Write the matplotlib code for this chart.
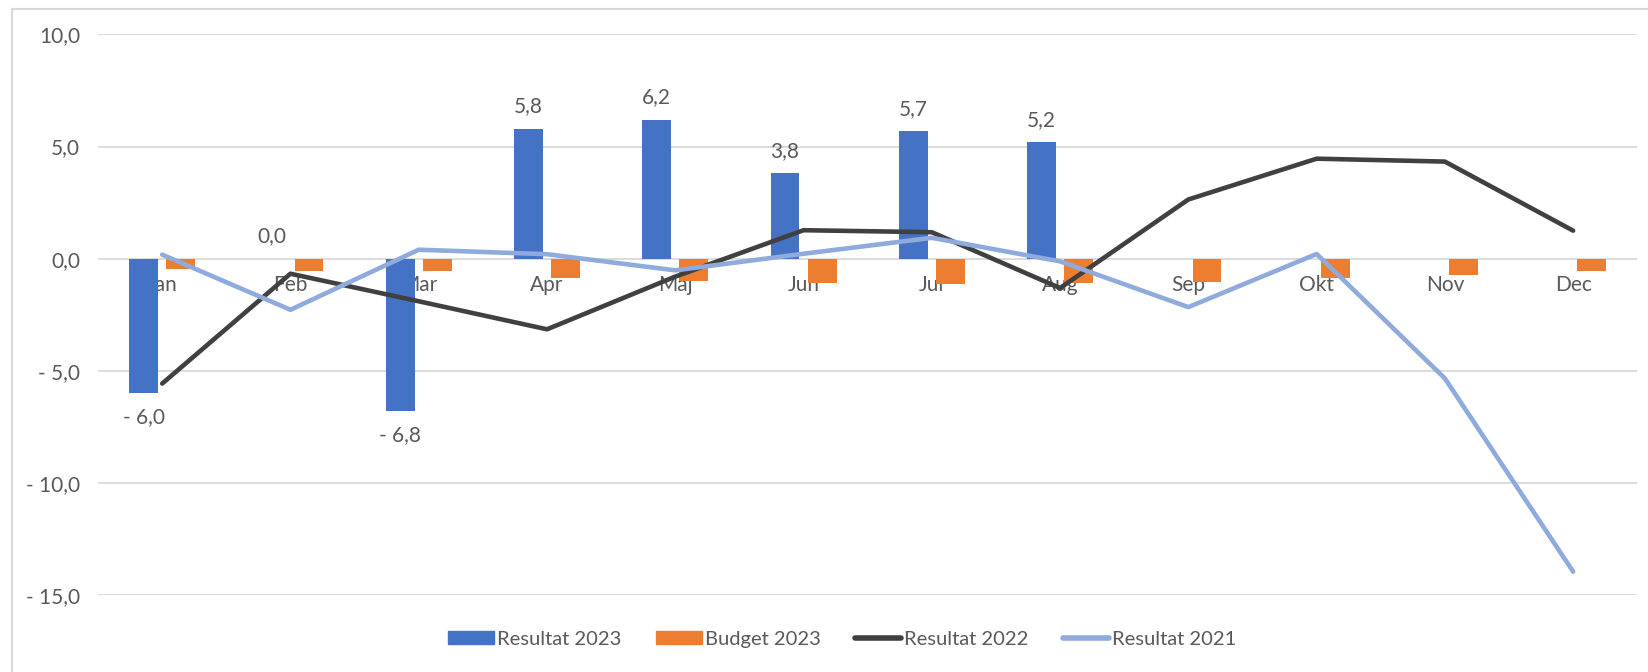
import matplotlib as mpl
import matplotlib.pyplot as plt
import numpy as np
from matplotlib.lines import Line2D
from matplotlib.patches import Patch

# Data
months = ["Jan", "Feb", "Mar", "Apr", "Maj", "Jun", "Jul", "Aug", "Sep", "Okt", "Nov", "Dec"]
resultat_2023 = [-6.0, 0.0, -6.8, 5.8, 6.2, 3.8, 5.7, 5.2, np.nan, np.nan, np.nan, np.nan]
budget_2023 = [-0.45, -0.57, -0.57, -0.88, -0.99, -1.09, -1.13, -1.09, -1.04, -0.84, -0.73, -0.57]
resultat_2022 = [-5.57, -0.67, -1.9, -3.15, -0.8, 1.27, 1.18, -1.31, 2.64, 4.46, 4.33, 1.25]
resultat_2021 = [0.18, -2.28, 0.4, 0.2, -0.52, 0.22, 0.93, -0.12, -2.16, 0.21, -5.34, -13.96]
yticks = [10, 5, 0, -5, -10, -15]

BLUE = "#4472C4"
ORANGE = "#ED7D31"
DARK = "#404040"
LIGHT = "#8FAADC"
TEXT = "#595959"
GRID = "#D9D9D9"

FS = 15

plt.rcParams["font.family"] = ["Lato", "DejaVu Sans"]
plt.rcParams["font.size"] = FS


def fmt(v):
    s = f"{abs(v):.1f}".replace(".", ",")
    return f"- {s}" if v < 0 else s


fig = plt.figure(figsize=(16.48, 6.72), dpi=100)
ax = fig.add_axes([0.0595, 0.1146, 0.934, 0.8341])

x = np.arange(len(months))
w = 0.225
off = 0.145
ax.bar(x - off, resultat_2023, w, color=BLUE, zorder=2)
ax.bar(x + off, budget_2023, w, color=ORANGE, zorder=2)
ax.plot(x, resultat_2022, color=DARK, lw=3.3, solid_capstyle="round",
        solid_joinstyle="round", zorder=3)
ax.plot(x, resultat_2021, color=LIGHT, lw=3.3, solid_capstyle="round",
        solid_joinstyle="round", zorder=3)

# data labels on Resultat 2023
for xi, v in zip(x - off, resultat_2023):
    if np.isnan(v):
        continue
    dy = 16 if v >= 0 else -17
    ax.annotate(fmt(v), (xi, v), xytext=(0, dy), textcoords="offset points",
                ha="center", va="center", color=TEXT, fontsize=FS)

ax.set_xlim(-0.5, len(months) - 0.5)
ax.set_ylim(-15, 10)
ax.set_yticks(yticks)
ax.set_yticklabels([fmt(v) for v in yticks])
ax.set_xticks(x)
ax.set_xticklabels(months)
ax.spines["bottom"].set_position(("data", 0))
for s in ax.spines.values():
    s.set_visible(False)
ax.tick_params(axis="both", length=0, colors=TEXT)
ax.tick_params(axis="y", pad=13)
ax.tick_params(axis="x", pad=12)
ax.set_axisbelow(True)
ax.grid(axis="y", color=GRID, lw=1.3)
ax.grid(axis="x", visible=False)

# chart frame (left and top edges visible)
fig.add_artist(Line2D([12 / 1648, 12 / 1648], [0, 1 - 9 / 672], color=GRID, lw=1.5))
fig.add_artist(Line2D([12 / 1648, 1], [1 - 9 / 672, 1 - 9 / 672], color=GRID, lw=1.5))

handles = [
    Patch(color=BLUE),
    Patch(color=ORANGE),
    Line2D([], [], color=DARK, lw=4, solid_capstyle="round"),
    Line2D([], [], color=LIGHT, lw=4, solid_capstyle="round"),
]
labels = ["Resultat 2023", "Budget 2023", "Resultat 2022", "Resultat 2021"]
leg = fig.legend(handles, labels, loc="center", bbox_to_anchor=(0.511, 0.049), ncol=4,
                 frameon=False, handlelength=2.3, handletextpad=0.15, columnspacing=1.7,
                 handleheight=0.6, fontsize=14.5)
for t in leg.get_texts():
    t.set_color(TEXT)

fig.savefig("out.png", dpi=100)
